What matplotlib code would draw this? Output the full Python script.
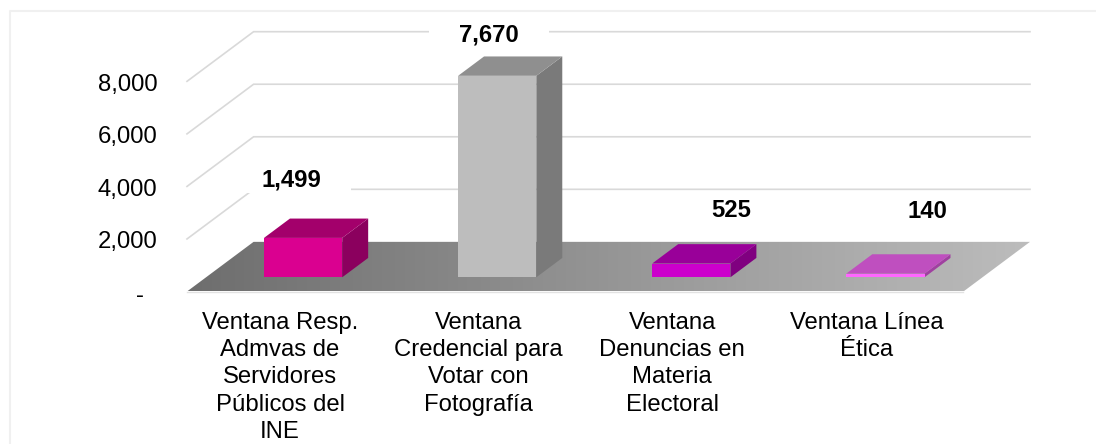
import numpy as np
import matplotlib
matplotlib.use("Agg")
import matplotlib.pyplot as plt
from matplotlib.colors import LinearSegmentedColormap
from matplotlib.lines import Line2D
from matplotlib.patches import Polygon, Rectangle
from matplotlib.transforms import Affine2D, ScaledTranslation

# ---- data ----
categories = [
    "Ventana Resp.\nAdmvas de\nServidores\nPúblicos del\nINE",
    "Ventana\nCredencial para\nVotar con\nFotografía",
    "Ventana\nDenuncias en\nMateria\nElectoral",
    "Ventana Línea\nÉtica",
]
values = [1499, 7670, 525, 140]
value_labels = ["1,499", "7,670", "525", "140"]
y_ticks = [0, 2000, 4000, 6000, 8000]
y_tick_labels = ["-", "2,000", "4,000", "6,000", "8,000"]

# ---- style ----
front_colors = ["#DA0090", "#BDBDBD", "#CC00CC", "#FF66FF"]
top_colors = ["#A3006B", "#8F8F8F", "#990099", "#BF4FBF"]
side_colors = ["#8B005E", "#7A7A7A", "#800080", "#A040A0"]
label_offsets_px = [(-12, 58), (-8.5, 41), (39.5, 53.5), (42.5, 62)]
GRID = "#D9D9D9"
FS = 17.2

# oblique projection of the depth axis, in data units
DEPTH_X = 0.343     # categories
DEPTH_Y = 1890      # value units
BAR_D0, BAR_D1 = 0.286, 0.676
BAR_W = 0.403
X0, X1 = -0.5, len(categories) - 0.5

plt.rcParams["font.family"] = ["Liberation Sans", "DejaVu Sans"]

W, H = 1096, 444
fig = plt.figure(figsize=(W / 100, H / 100), dpi=100, facecolor="white")
ax = fig.add_axes([187 / W, (H - 291.5) / H, (1030 - 187) / W, (291.5 - 31.7) / H])
ax.set_facecolor("none")
ax.set_xlim(X0, X1 + DEPTH_X)
ax.set_ylim(0, y_ticks[-1] + DEPTH_Y)
for s in ax.spines.values():
    s.set_visible(False)


def proj(x, v, d):
    return (x + d * DEPTH_X, v + d * DEPTH_Y)


# chart frame (left and top only are inside the picture)
fig.add_artist(Line2D([9.5 / W, 9.5 / W, 1], [0, (H - 11.5) / H, (H - 11.5) / H],
                      color="#F0F0F0", lw=1.5))

# grid on the side and back walls
for v in y_ticks[1:]:
    pts = [proj(X0, v, 0), proj(X0, v, 1), proj(X1, v, 1)]
    ax.plot(*zip(*pts), color=GRID, lw=1.2, zorder=1, clip_on=False,
            solid_joinstyle="miter")

# floor with gradient
floor = Polygon([proj(X0, 0, 0), proj(X1, 0, 0), proj(X1, 0, 1), proj(X0, 0, 1)],
                closed=True, facecolor="none", edgecolor="none", transform=ax.transData)
ax.add_patch(floor)
cmap = LinearSegmentedColormap.from_list("floor", ["#6E6E6E", "#BCBCBC"])
xl, yl = ax.get_xlim(), ax.get_ylim()
im = ax.imshow(np.linspace(0, 1, 256).reshape(1, -1), cmap=cmap, aspect="auto",
               extent=(xl[0], xl[1], yl[0], yl[1]), zorder=3, interpolation="bilinear")
im.set_clip_path(floor)
ax.set_xlim(xl)
ax.set_ylim(yl)
ax.plot([X0, X1], [0, 0], color="#E2E2E2", lw=1.0, zorder=3.5, clip_on=False)

# bars
for i, v in enumerate(values):
    xa, xb = i - BAR_W / 2, i + BAR_W / 2
    front = [proj(xa, 0, BAR_D0), proj(xb, 0, BAR_D0), proj(xb, v, BAR_D0), proj(xa, v, BAR_D0)]
    side = [proj(xb, 0, BAR_D0), proj(xb, 0, BAR_D1), proj(xb, v, BAR_D1), proj(xb, v, BAR_D0)]
    top = [proj(xa, v, BAR_D0), proj(xb, v, BAR_D0), proj(xb, v, BAR_D1), proj(xa, v, BAR_D1)]
    for pts, col in ((side, side_colors[i]), (top, top_colors[i]), (front, front_colors[i])):
        ax.add_patch(Polygon(pts, closed=True, facecolor=col, edgecolor="none",
                             zorder=4, clip_on=False))

    # value label with its white plate, which interrupts the grid
    ox, oy = label_offsets_px[i]
    anchor = proj(i, v, BAR_D0)
    plate = Rectangle((ox - 60, oy - 13), 120, 26, facecolor="white", edgecolor="none",
                      zorder=2, clip_on=False,
                      transform=Affine2D() + ScaledTranslation(anchor[0], anchor[1], ax.transData))
    ax.add_patch(plate)
    ax.annotate(value_labels[i], xy=anchor, xytext=(ox, oy), textcoords="offset pixels",
                ha="center", va="center", fontsize=FS, fontweight="bold", color="black",
                zorder=5, annotation_clip=False)

# axes labels
ax.set_yticks(y_ticks)
ax.set_yticklabels(y_tick_labels, fontsize=FS, color="black")
ax.set_xticks(range(len(categories)))
ax.set_xticklabels(categories, fontsize=FS, color="black", linespacing=1.315)
ax.tick_params(axis="y", length=0, pad=21.5)
ax.tick_params(axis="x", length=0, pad=14.5)
for k, lab in enumerate(ax.get_yticklabels()):
    shift = (-13, -2) if k == 0 else (0, -1)
    lab.set_transform(lab.get_transform() + Affine2D().translate(*shift))
first = ax.get_xticklabels()[0]
first.set_transform(first.get_transform() + Affine2D().translate(-4, 0))

fig.savefig("out.png", dpi=100, facecolor="white")
